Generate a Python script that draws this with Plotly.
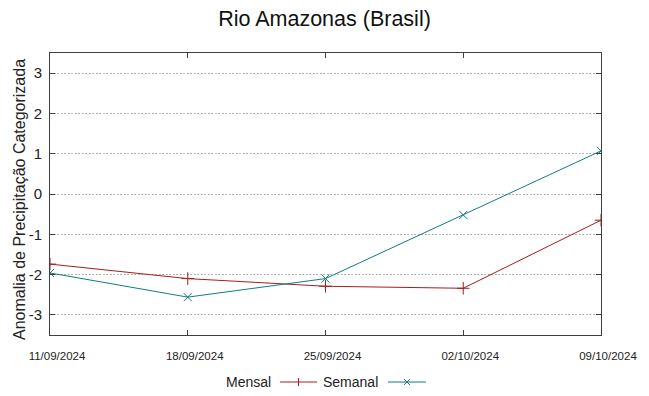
import plotly.graph_objects as go

dates = ["11/09/2024", "18/09/2024", "25/09/2024", "02/10/2024", "09/10/2024"]
mensal = [-1.74, -2.10, -2.29, -2.34, -0.65]
semanal = [-1.96, -2.56, -2.10, -0.52, 1.07]
yticks = [-3, -2, -1, 0, 1, 2, 3]
ytick_labels = ["-3", "-2", "-1", "0", "1", "2", "3"]

RED = "#a81c1c"
TEAL = "#117d7d"
FONT = "Liberation Sans, Arial, sans-serif"

xi = list(range(len(dates)))

fig = go.Figure()
fig.add_trace(go.Scatter(x=xi, y=mensal, mode="lines+markers", name="Mensal",
                         line=dict(color=RED, width=1),
                         marker=dict(symbol="cross-thin", size=9, line=dict(color=RED, width=1))))
fig.add_trace(go.Scatter(x=xi, y=semanal, mode="lines+markers", name="Semanal",
                         line=dict(color=TEAL, width=1),
                         marker=dict(symbol="x-thin", size=8, line=dict(color=TEAL, width=1))))

fig.update_layout(
    width=649, height=396,
    margin=dict(l=50, r=48, t=53, b=61),
    paper_bgcolor="white", plot_bgcolor="white",
    showlegend=False,
    font=dict(family=FONT, color="#222222"),
    title=dict(text="Rio Amazonas (Brasil)", x=0.5, xanchor="center", y=1 - 18/396, yanchor="middle",
               font=dict(size=21.5, family=FONT, color="#111111")),
)
fig.update_xaxes(range=[0, len(dates) - 1], tickmode="array", tickvals=xi, ticktext=dates,
                 showgrid=False, zeroline=False, showline=True, linecolor="#404040", linewidth=1,
                 mirror="ticks", ticks="inside", ticklen=5, tickcolor="#404040",
                 tickfont=dict(size=11.5, family=FONT, color="#222222"),
                 ticklabelstandoff=10, ticklabelshift=7)
fig.update_yaxes(range=[-3.5, 3.5], tickmode="array", tickvals=yticks, ticktext=ytick_labels,
                 showgrid=True, gridcolor="#b4b4b4", griddash="2px,1.5px", gridwidth=1,
                 zeroline=False, showline=True, linecolor="#404040", linewidth=1,
                 mirror="ticks", ticks="inside", ticklen=5, tickcolor="#404040",
                 tickfont=dict(size=15, family=FONT, color="#222222"), ticklabelstandoff=4)

def py(p):
    return 1 - (p - 53) / 282
def px(p):
    return (p - 50) / 551

# y axis title
fig.add_annotation(text="Anomalia de Precipitação Categorizada", textangle=-90,
                   x=px(19), y=py(200), xref="paper", yref="paper",
                   xanchor="center", yanchor="middle", showarrow=False,
                   font=dict(size=16, family=FONT, color="#222222"))

# custom legend (gnuplot style: text then sample)
ly_px = 382
fig.add_annotation(text="Mensal", x=px(273), y=py(ly_px), xref="paper", yref="paper",
                   xanchor="right", yanchor="middle", showarrow=False,
                   font=dict(size=14, family=FONT, color="#222222"))
fig.add_annotation(text="Semanal", x=px(380), y=py(ly_px), xref="paper", yref="paper",
                   xanchor="right", yanchor="middle", showarrow=False,
                   font=dict(size=14, family=FONT, color="#222222"))
def seg(x0, x1, color):
    fig.add_shape(type="line", xref="paper", yref="paper",
                  x0=px(x0), x1=px(x1), y0=py(ly_px), y1=py(ly_px),
                  line=dict(color=color, width=1))
seg(280, 317, RED)
seg(388, 426, TEAL)
fig.add_shape(type="line", xref="paper", yref="paper", x0=px(298.5), x1=px(298.5),
              y0=py(ly_px - 4), y1=py(ly_px + 4), line=dict(color=RED, width=1))
for d in (1, -1):
    fig.add_shape(type="line", xref="paper", yref="paper",
                  x0=px(404), x1=px(410),
                  y0=py(ly_px - 3 * d), y1=py(ly_px + 3 * d), line=dict(color=TEAL, width=1))

fig.write_html("out.html", config={"displayModeBar": False},
               post_script="document.body.style.margin='0';document.body.style.overflow='hidden';")
